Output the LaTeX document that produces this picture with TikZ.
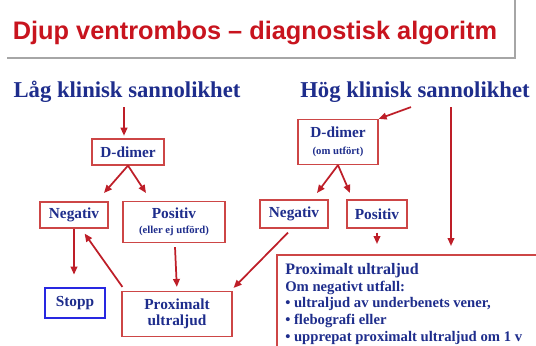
\documentclass[tikz,border=0pt]{standalone}
\usepackage{fontspec}
\setmainfont{Liberation Serif}
\newfontfamily\titlefont{Liberation Sans}
\usetikzlibrary{arrows.meta}
\definecolor{boxred}{RGB}{205,70,70}
\definecolor{arrred}{RGB}{190,30,40}
\definecolor{txtblue}{RGB}{30,45,140}
\definecolor{stopblue}{RGB}{40,40,225}
\definecolor{titlered}{RGB}{200,20,30}

\begin{document}
\begin{tikzpicture}[x=0.75pt,y=-0.75pt,>={Triangle[length=6pt,width=5pt]},
  rbox/.style={draw=boxred,line width=0.9pt,text=txtblue,align=center,inner sep=0pt,
    font=\bfseries\fontsize{11.5}{12}\selectfont},
  head/.style={text=txtblue,font=\bfseries\fontsize{17}{19}\selectfont},
  arr/.style={->,draw=arrred,line width=1.3pt}]
  \useasboundingbox[fill=white] (0,0) rectangle (536,346);
  % title
  \draw[gray!70,line width=1pt] (7,58) -- (515,58) -- (515,0);
  \node[text=titlered,font=\titlefont\bfseries\fontsize{19}{21}\selectfont] (title) at (255,33) {Djup ventrombos – diagnostisk algoritm};
  % headings
  \node[head] (lag) at (127,92) {Låg klinisk sannolikhet};
  \node[head] (hog) at (415,92) {Hög klinisk sannolikhet};
  % left branch
  \node[rbox,minimum width=54pt,minimum height=19.5pt] (ddl) at (128,152) {D-dimer};
  \node[rbox,minimum width=51pt,minimum height=19.5pt] (negl) at (74,215) {Negativ};
  \node[rbox,minimum width=76.5pt,minimum height=30.75pt] (posl) at (174,222) {Positiv\\[-1pt]{\fontsize{8}{9}\selectfont (eller ej utförd)}};
  \node[draw=stopblue,line width=2.2pt,text=txtblue,inner sep=0pt,font=\bfseries\fontsize{11.5}{12}\selectfont,minimum width=45pt,minimum height=22.5pt] (stopp) at (75,303) {Stopp};
  \node[rbox,minimum width=82.5pt,minimum height=33.75pt] (proxl) at (177,314) {Proximalt\\ultraljud};
  % right branch
  \node[rbox,minimum width=60pt,minimum height=33.75pt] (ddr) at (338,142) {D-dimer\\[1pt]{\fontsize{8}{9}\selectfont (om utfört)}};
  \node[rbox,minimum width=51pt,minimum height=21pt] (negr) at (294,214) {Negativ};
  \node[rbox,minimum width=45pt,minimum height=21pt] (posr) at (377,214) {Positiv};
  \begin{scope}
    \clip (0,0) rectangle (536,346);
    \draw[boxred,line width=0.9pt] (277,255) rectangle (570,380);
  \end{scope}
  \node[anchor=north west,text=txtblue,align=left,inner sep=0pt,font=\bfseries\fontsize{11}{12.6}\selectfont] (proxr) at (285,263)
    {{\fontsize{12}{13}\selectfont Proximalt ultraljud}\\Om negativt utfall:\\
     \textbullet\ ultraljud av underbenets vener,\\\textbullet\ flebografi eller\\
     \textbullet\ upprepat proximalt ultraljud om 1 v};
  % free arrow ends
  \coordinate (t1) at (104,193);
  \coordinate (t2) at (146,193);
  \coordinate (t3) at (317,193);
  \coordinate (t4) at (350,193);
  \coordinate (t5) at (451,246);
  % connectors
  \draw[arr] (lag.south -| ddl) ++(-4,0) coordinate (s0) -- (s0 |- ddl.north) [shorten >=2pt];
  \draw[arr] (ddl.south) -- (t1);
  \draw[arr] (ddl.south) -- (t2);
  \draw[arr] ([xshift=-3pt]hog.south) -- (ddr.north east);
  \draw[arr] (ddr.south) -- (t3);
  \draw[arr] (ddr.south) -- (t4);
  \draw[arr] (hog.south -| t5) -- (t5);
  \draw[arr] (negl.south) -- ++(0,46);
  \draw[arr] (posl.south) ++(1,4) -- (proxl.north) [shorten >=3pt];
  \draw[arr] ([shift={(1,-4)}]proxl.north west) -- ([shift={(-24,5)}]negl.south east);
  \draw[arr] ([shift={(-6,4)}]negr.south) -- ([shift={(1,-3)}]proxl.north east);
  \draw[arr] ([yshift=-3pt]posr.south) -- (posr.south |- 0,244);
\end{tikzpicture}
\end{document}
